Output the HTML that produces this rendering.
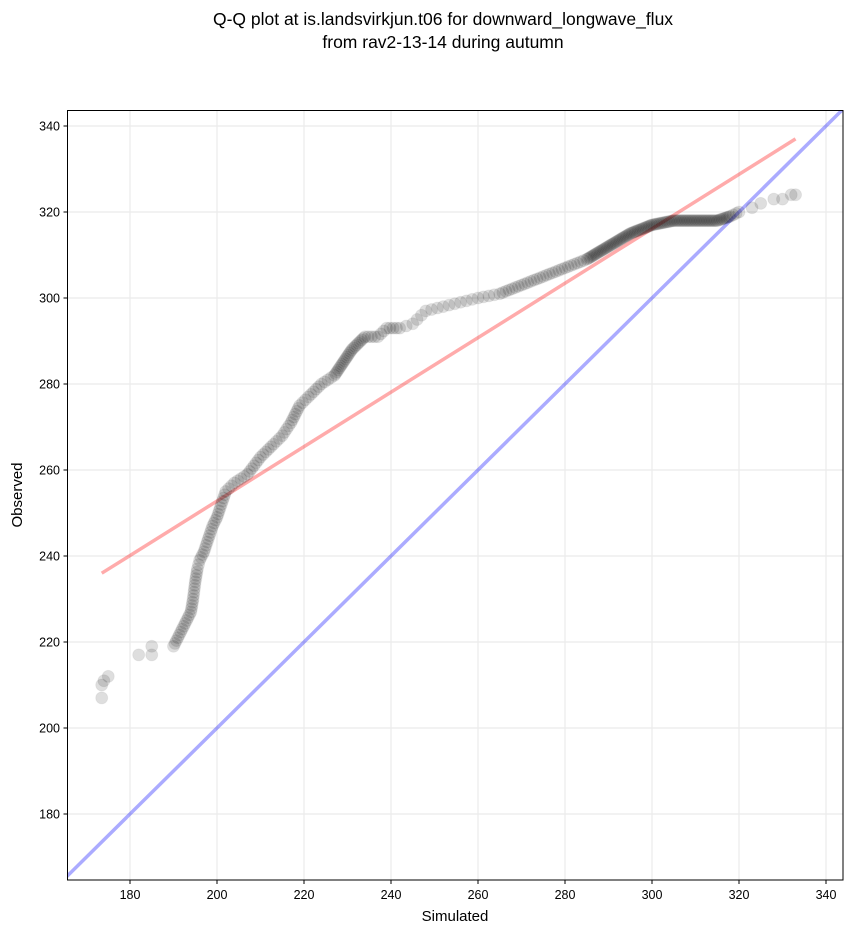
<!DOCTYPE html><html><head><style>body{margin:0;background:#fff}svg{font-family:"Liberation Sans","DejaVu Sans",sans-serif}</style></head><body>
<svg id="s" width="851" height="934" xmlns="http://www.w3.org/2000/svg">
<text x="443" y="25" font-size="17.5" text-anchor="middle">Q-Q plot at is.landsvirkjun.t06 for downward_longwave_flux</text>
<text x="443" y="48" font-size="17.5" text-anchor="middle">from rav2-13-14 during autumn</text>
<g id="grid"></g>
<defs><clipPath id="c"><rect x="67.5" y="110.5" width="775.5" height="769.5"/></clipPath></defs>
<g clip-path="url(#c)">
<line id="blue" stroke="#0000ff" stroke-opacity="0.33" stroke-width="3.5"/>
<line id="red" stroke="#ff0000" stroke-opacity="0.33" stroke-width="3.5"/>
<g id="pts"></g>
</g>
<rect x="67.5" y="110.5" width="775.5" height="769.5" fill="none" stroke="#000" stroke-width="1"/>
<text x="455" y="921" font-size="15" text-anchor="middle">Simulated</text>
<text transform="translate(22,495) rotate(-90)" font-size="15" text-anchor="middle">Observed</text>
</svg>
<script>
const X=v=>130+(v-180)*4.35, Y=v=>126+(340-v)*4.3;
const ns="http://www.w3.org/2000/svg",s=document.getElementById('s');
function el(p,t,a,txt){const e=document.createElementNS(ns,t);for(const k in a)e.setAttribute(k,a[k]);if(txt)e.textContent=txt;p.appendChild(e);return e;}
const g=document.getElementById('grid');
for(let v=180;v<=340;v+=20){
 el(g,'line',{x1:X(v),x2:X(v),y1:110.5,y2:880,stroke:'#ebebeb','stroke-width':1.2});
 el(g,'line',{x1:67.5,x2:843,y1:Y(v),y2:Y(v),stroke:'#ebebeb','stroke-width':1.2});
 el(g,'line',{x1:X(v),x2:X(v),y1:880,y2:884,stroke:'#000'});
 el(g,'line',{x1:63.5,x2:67.5,y1:Y(v),y2:Y(v),stroke:'#000'});
 el(s,'text',{x:X(v),y:899,'font-size':12.5,'text-anchor':'middle'},String(v));
 el(s,'text',{x:60,y:Y(v)+4.5,'font-size':12.5,'text-anchor':'end'},String(v));
}
const b=document.getElementById('blue');b.setAttribute('x1',X(160));b.setAttribute('y1',Y(160));b.setAttribute('x2',X(360));b.setAttribute('y2',Y(360));
const r=document.getElementById('red');r.setAttribute('x1',X(173.5));r.setAttribute('y1',Y(236));r.setAttribute('x2',X(333));r.setAttribute('y2',Y(337));
const k=[[173.5,207],[173.5,210],[174,211],[175,212],[182,217],[185,217],[185,219],[190,219],[191,221],[192,223],[193,225],[194,227],[194.5,230],[195,234],[195.5,237],[196,239],[197,241],[198,244],[199,247],[200,249],[201,252],[202,255],[204,257],[207,259],[210,263],[213,266],[215,268],[217,271],[219,275],[221,277],[224,280],[227,282],[229,285],[231,288],[234,291],[237,291],[239,293],[242,293],[245,294],[248,297],[252,298],[256,299],[260,300],[265,301],[270,303],[275,305],[280,307],[285,309],[290,312],[295,315],[300,317],[305,318],[310,318],[315,318],[318,319],[320,320],[323,321],[325,322],[328,323],[330,323],[332,324],[333,324]];
const P=document.getElementById('pts');
function dot(x,y){el(P,'circle',{cx:x,cy:y,r:6,fill:'#000','fill-opacity':0.13,stroke:'#000','stroke-opacity':0.05});}
for(let i=0;i<k.length;i++){
 const a=k[i];dot(X(a[0]),Y(a[1]));
 if(i+1<k.length){const c=k[i+1];const d=Math.hypot((c[0]-a[0])*4.35,(c[1]-a[1])*4.3);
  let dens=(a[0]>=285&&a[0]<318)?1.6:(a[0]>=226&&a[0]<234?2.2:(a[0]>=190&&a[0]<240?3.2:(a[0]>=265?3:5)));
  if(a[0]<190||a[0]>=320)dens=1000;
  const n=Math.floor(d/dens);
  for(let j=1;j<n;j++){const t=j/n;dot(X(a[0]+(c[0]-a[0])*t),Y(a[1]+(c[1]-a[1])*t));}}
}
</script>
</body></html>
